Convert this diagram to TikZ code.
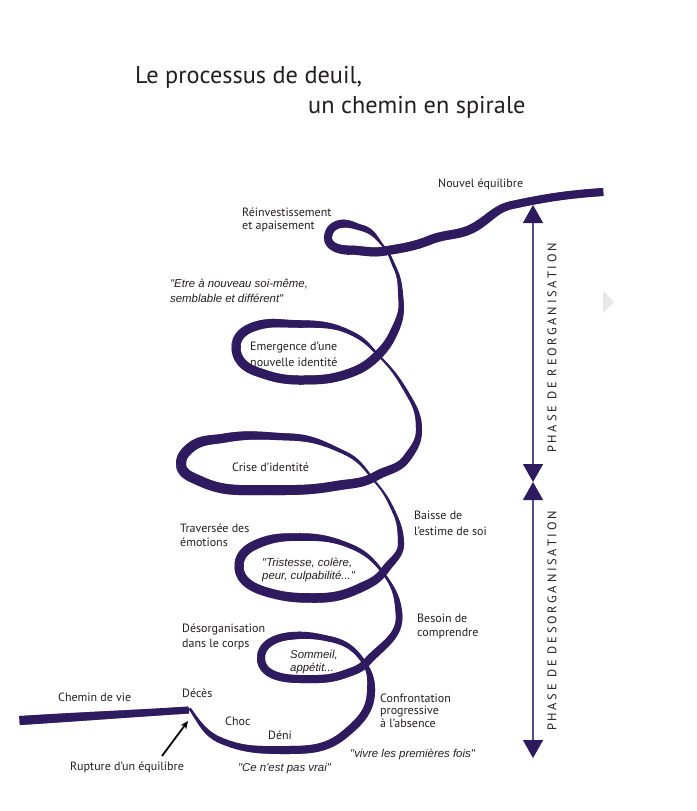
\documentclass[tikz,border=0pt]{standalone}
\usepackage{fontspec}
\setmainfont{PT Sans}
\newfontfamily\quotefont{Liberation Sans}
\newfontfamily\phasefont[LetterSpace=22]{PT Sans}
\usetikzlibrary{decorations.markings,arrows.meta}
\definecolor{ribc}{HTML}{2E1A5E}
\definecolor{axisc}{HTML}{5A4A8C}
\definecolor{txt}{HTML}{231F20}
\tikzset{
  rib/.style n args={2}{postaction={decorate},decoration={markings,
     mark=between positions 0 and 1 step 0.8pt with {
       \pgfmathsetmacro\ribS{\pgfkeysvalueof{/pgf/decoration/mark info/distance from start}/\pgfdecoratedpathlength}
       \pgfmathsetmacro\ribW{(#1)+((#2)-(#1))*(1-cos(180*\ribS))/2}
       \fill[ribc] (-0.65pt,-0.5*\ribW pt) rectangle (0.65pt,0.5*\ribW pt);
     }}},
  lab/.style={text=txt, font=\fontsize{12}{14.5}\selectfont, align=left, inner sep=0pt, anchor=base west},
  quo/.style={text=txt, font=\quotefont\itshape\fontsize{11.4}{13.5}\selectfont, align=left, inner sep=0pt, anchor=base west},
  ttl/.style={text=txt, font=\fontsize{24.3}{28}\selectfont, inner sep=0pt, anchor=base west},
  phase/.style={text=txt, font=\phasefont\fontsize{12.5}{14}\selectfont, inner sep=0pt, rotate=90, anchor=center},
  phasearrow/.style={axisc, line width=1.3pt, {Triangle[length=18pt,width=20pt,color=ribc]}-{Triangle[length=18pt,width=20pt,color=ribc]}}
}
\newcommand\rseg[6]{\pgfmathsetmacro\ribIn{#4+180}\path[rib={#5}{#6}] (#1) to[out=#2,in=\ribIn] (#3);}
\begin{document}
\begin{tikzpicture}[x=1pt,y=1pt]
\useasboundingbox (0,0) rectangle (696,-811);
\fill[white] (0,0) rectangle (696,-811);

% faint grey triangle
\fill[black!9] (603,-291) -- (614,-302) -- (603,-313) -- cycle;

% ribbon: chemin de vie
\foreach \x/\y/\d/\w [count=\i, remember=\x as \lx (initially 0), remember=\y as \ly (initially 0), remember=\d as \ld (initially 0), remember=\w as \lw (initially 0)] in {
  20/720.5/3.7/9, 189/710/3.7/7}
  {\ifnum\i>1 \rseg{\lx,-\ly}{\ld}{\x,-\y}{\d}{\lw}{\w}\fi}

% ribbon: spiral
\foreach \x/\y/\d/\w [count=\i, remember=\x as \lx (initially 0), remember=\y as \ly (initially 0), remember=\d as \ld (initially 0), remember=\w as \lw (initially 0)] in {
  190/709/-55/2.5, 222/741/-22/6, 285/750/0/8, 345/734/40/8, 371/692/88/8, 363/661/125/4,
  330/639/168/5.5, 290/636/186/7.5, 261/658/270/8, 300/679/0/8, 345/674/20/8, 367/662/48/8,
  399/614/95/6.5, 386/577/125/2.5,
  350/546/158/4.5, 300/537/180/7.5, 255/545/205/9, 239/566/270/9, 270/593/345/9, 315/598/0/9.5, 360/588/25/9, 385/570/55/8,
  401/543/92/6, 394/512/115/3, 377/484/130/1.8,
  345/453/155/3.5, 290/437/178/7, 225/438/190/9, 190/448/220/10, 181/464/270/10, 200/481/335/10, 265/490/0/10, 335/486/10/9.5, 376/476/30/9,
  407/458/55/8, 419/430/90/6, 410/398/120/3.5, 381/358/135/2,
  355/335/152/4, 300/324/180/7.5, 253/327/200/9, 236/347/270/9, 255/371/340/9, 300/380/0/9, 350/373/20/9, 378/355/45/9,
  394/332/65/8, 401/300/95/5, 395/268/115/3, 384/247/130/2,
  362/228/165/6, 340/224/190/8, 328/237/265/8, 348/250/0/9, 385/251/10/9,
  430/240/22/9, 475/227/30/9, 512/205/12/8, 603/192/4/8}
  {\ifnum\i>1 \rseg{\lx,-\ly}{\ld}{\x,-\y}{\d}{\lw}{\w}\fi}

% title
\node[ttl] (t1) at (135,-83) {Le processus de deuil,};
\node[ttl] (t2) at (308,-113) {un chemin en spirale};

% labels (multi-line nodes: base = last line)
\node[lab] (nouvel) at (438,-187) {Nouvel équilibre};
\node[lab, font=\fontsize{12}{13.5}\selectfont] (reinv) at (242,-229.5) {Réinvestissement\\et apaisement};
\node[quo, font=\quotefont\itshape\fontsize{11.4}{15}\selectfont] (etre) at (170,-302) {"Etre à nouveau soi-même,\\semblable et différent"};
\node[lab, font=\fontsize{12}{16}\selectfont] (emerg) at (250,-366) {Emergence d'une\\nouvelle identité};
\node[lab] (crise) at (232,-471) {Crise d'identité};
\node[lab, font=\fontsize{12}{16}\selectfont] (baisse) at (414,-535) {Baisse de\\l'estime de soi};
\node[lab] (trav) at (180,-546.5) {Traversée des\\émotions};
\node[quo] (trist) at (262,-579.5) {"Tristesse, colère,\\peur, culpabilité..."};
\node[lab] (besoin) at (417,-636.5) {Besoin de\\comprendre};
\node[lab, font=\fontsize{12}{15}\selectfont] (desorg) at (182,-647) {Désorganisation\\dans le corps};
\node[quo] (somm) at (290,-671.5) {Sommeil,\\appétit...};
\node[lab] (chemin) at (58,-701) {Chemin de vie};
\node[lab] (deces) at (182,-697) {Décès};
\node[lab] (choc) at (225,-725) {Choc};
\node[lab] (deni) at (268,-739) {Déni};
\node[lab, font=\fontsize{12}{12.5}\selectfont] (confr) at (380,-727) {Confrontation\\progressive\\à l'absence};
\node[lab] (rupt) at (70,-770) {Rupture d'un équilibre};
\node[quo] (cenest) at (238,-771) {"Ce n'est pas vrai"};
\node[quo] (vivre) at (350,-757) {"vivre les premières fois"};

% rupture arrow
\coordinate (rs) at (162,-756);
\coordinate (re) at (188,-721);
\draw[black, line width=1.8pt, -{Stealth[length=8pt,width=7pt]}] (rs) -- (re);

% phase arrows
\coordinate (a1) at (533,-205);
\coordinate (a2) at (533,-482);
\coordinate (a3) at (533,-758);
\draw[phasearrow] (a1) -- (a2);
\draw[phasearrow] (a2) -- (a3);
\node[phase] (ph1) at (552,-348) {PHASE DE REORGANISATION};
\node[phase] (ph2) at (552,-621) {PHASE DE DESORGANISATION};
\end{tikzpicture}
\end{document}
